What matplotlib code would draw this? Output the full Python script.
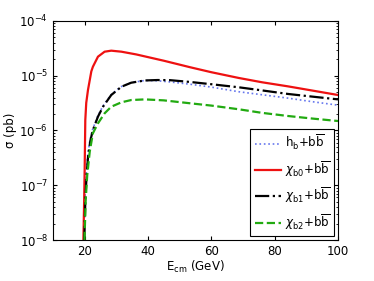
import matplotlib
matplotlib.use("Agg")
import matplotlib.pyplot as plt
import numpy as np

# data (E_cm in GeV, sigma in pb)
x_hb = [19.8, 20.05, 20.45, 20.95, 21.65, 22.45, 24.05, 25.65, 28.25, 31.45, 34.55, 39.0, 43.0, 47.0, 53.3, 60.0, 68.7, 76.0, 84.2, 92.0, 100.0]
y_hb = [1e-8, 5e-8, 1.5e-7, 3.5e-7, 6.5e-7, 1.02e-6, 1.79e-6, 2.72e-6, 4.45e-6, 6.3e-6, 7.46e-6, 8.2e-6, 8.1e-6, 7.7e-6, 7.0e-6, 6.2e-6, 5.1e-6, 4.5e-6, 3.9e-6, 3.35e-6, 2.9e-6]

x_b0 = [19.6, 19.8, 20.0, 20.2, 20.5, 21.05, 22.1, 22.6, 24.2, 26.3, 28.4, 31.6, 36.3, 45.0, 53.3, 60.0, 68.7, 76.0, 84.2, 92.0, 100.0]
y_b0 = [1e-8, 4e-8, 1.9e-7, 1.55e-6, 3.2e-6, 5.5e-6, 1.2e-5, 1.46e-5, 2.23e-5, 2.75e-5, 2.87e-5, 2.75e-5, 2.45e-5, 1.88e-5, 1.43e-5, 1.16e-5, 9.1e-6, 7.6e-6, 6.4e-6, 5.35e-6, 4.45e-6]

x_b1 = [19.9, 20.2, 20.6, 21.1, 21.8, 22.6, 24.2, 25.8, 28.4, 31.6, 34.7, 39.0, 43.0, 47.0, 53.3, 60.0, 68.7, 76.0, 84.2, 92.0, 100.0]
y_b1 = [1e-8, 5e-8, 1.5e-7, 3.5e-7, 6.5e-7, 1.02e-6, 1.79e-6, 2.72e-6, 4.45e-6, 6.3e-6, 7.46e-6, 8.2e-6, 8.35e-6, 8.3e-6, 7.7e-6, 7.0e-6, 6.15e-6, 5.4e-6, 4.65e-6, 4.15e-6, 3.7e-6]

x_b2 = [19.95, 20.3, 20.8, 21.6, 22.6, 24.2, 26.3, 28.4, 31.6, 34.7, 39.0, 45.0, 53.3, 60.0, 68.7, 76.0, 84.2, 92.0, 100.0]
y_b2 = [1e-8, 5e-8, 1.5e-7, 4.1e-7, 8.9e-7, 1.35e-6, 2.06e-6, 2.72e-6, 3.27e-6, 3.6e-6, 3.7e-6, 3.55e-6, 3.14e-6, 2.85e-6, 2.44e-6, 2.1e-6, 1.84e-6, 1.65e-6, 1.49e-6]

labels = [r"h$_\mathrm{b}$+b$\overline{\mathrm{b}}$",
          r"$\chi_\mathrm{b0}$+b$\overline{\mathrm{b}}$",
          r"$\chi_\mathrm{b1}$+b$\overline{\mathrm{b}}$",
          r"$\chi_\mathrm{b2}$+b$\overline{\mathrm{b}}$"]
xticks = [20, 40, 60, 80, 100]

plt.rcParams['font.family'] = ['DejaVu Sans']
plt.rcParams['mathtext.fontset'] = 'dejavusans'
fig = plt.figure(figsize=(3.74, 2.81), dpi=100)
ax = fig.add_axes([0.1417, 0.1459, 0.762, 0.7794])

ax.semilogy(x_hb, y_hb, ':', color='#6677ee', lw=1.2, label=labels[0])
ax.semilogy(x_b0, y_b0, '-', color='#ee1111', lw=1.6, label=labels[1])
ax.semilogy(x_b1, y_b1, '-.', color='black', lw=1.6, label=labels[2])
ax.semilogy(x_b2, y_b2, '--', color='#22aa11', lw=1.6, label=labels[3])

ax.set_xlim(10, 100)
ax.set_ylim(1e-8, 1e-4)
ax.set_xticks(xticks)
ax.tick_params(which='both', direction='in', top=True, right=True, labelsize=8.5)
ax.tick_params(which='major', length=3)
ax.tick_params(which='minor', length=1.5)
ax.set_xlabel(r"E$_\mathrm{cm}$ (GeV)", fontsize=8.5, labelpad=1)
ax.set_ylabel(r"σ (pb)", fontsize=8.5, labelpad=2)

leg = ax.legend(loc='lower right', fontsize=8.5, frameon=True, fancybox=False,
                edgecolor='black', framealpha=1, handlelength=2.2,
                borderaxespad=0.3, labelspacing=0.55, handletextpad=0.3)
leg.get_frame().set_linewidth(0.8)

fig.savefig("out.png", dpi=100)
